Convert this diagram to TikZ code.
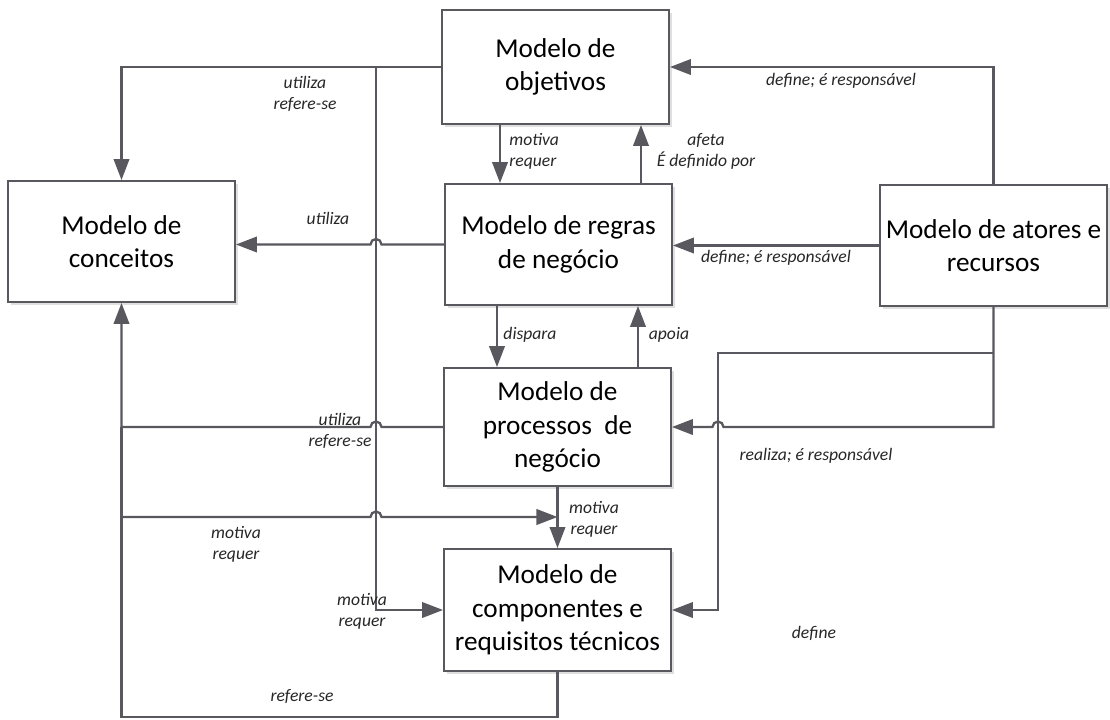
\documentclass[tikz,border=0pt]{standalone}
\usepackage{fontspec}
\setmainfont{Carlito}
\usepackage{tikz}
\usetikzlibrary{arrows.meta,shadows}
\definecolor{linegray}{RGB}{88,88,94}
\begin{document}
\begin{tikzpicture}[scale=0.2,
  box/.style={draw=linegray,line width=1.1pt,fill=white,minimum width=4.54cm,minimum height=2.42cm,align=center,font=\fontsize{15.5}{19}\selectfont,drop shadow={shadow xshift=1.5pt,shadow yshift=-1.5pt,opacity=0.25}},
  lbl/.style={font=\itshape\fontsize{10}{12}\selectfont,align=center,text=black!85},
  conn/.style={draw=linegray,line width=1.3pt,-{Triangle[length=0.42cm,width=0.31cm]}},
  plain/.style={draw=linegray,line width=1.3pt}]
\tikzstyle{every node}+=[inner sep=0pt]
\useasboundingbox (0,0) rectangle (111,-71.9);
\node [box,minimum height=2.28cm] (objetivos) at (55.55,-6.7) {Modelo de\\objetivos};
\node [box] (conceitos) at (12.15,-24.15) {Modelo de\\conceitos};
\node [box] (regras) at (55.85,-24.45) {Modelo de regras\\de negócio};
\node [box] (atores) at (99.35,-24.55) {Modelo de atores e\\recursos};
\node [box,minimum height=2.36cm] (processos) at (55.75,-42.7) {Modelo de\\processos\ \ de\\negócio};
\node [box,minimum height=2.44cm] (componentes) at (55.75,-61) {Modelo de\\componentes e\\requisitos técnicos};
\coordinate (vtop) at (37.6,-6.7);
\coordinate (vr) at (38.15,-6.7);
\coordinate (vl) at (37.05,-6.7);
\coordinate (xmot) at (50,0);
\coordinate (xafe) at (64.1,0);
\coordinate (xdis) at (49.7,0);
\coordinate (xapo) at (63.8,0);
\coordinate (mjoin) at (55.75,-51.7);
\coordinate (cbot) at (12.15,-71.7);
\coordinate (abranch) at (99.35,-35.3);
\coordinate (rjog) at (71.8,-35.3);
\coordinate (rjogr) at (72.35,-35.3);
\draw [conn] (objetivos.west) -- (conceitos.north |- objetivos.west) -- (conceitos.north);
\draw [conn] (vtop) -- (vtop |- componentes.west) -- (componentes.west);
\draw [conn] (xmot |- objetivos.south) -- (xmot |- regras.north);
\draw [conn] (xafe |- regras.north) -- (xafe |- objetivos.south);
\draw [conn] (regras.west) -- (vr |- regras.west) arc (0:180:0.55) -- (conceitos.east |- regras.west);
\draw [conn] (atores.west) -- (regras.east |- atores.west);
\draw [conn] (atores.north) -- (atores.north |- objetivos.east) -- (objetivos.east);
\draw [conn] (xdis |- regras.south) -- (xdis |- processos.north);
\draw [conn] (xapo |- processos.north) -- (xapo |- regras.south);
\draw [conn] (processos.west) -- (vr |- processos.west) arc (0:180:0.55) -- (conceitos.south |- processos.west) -- (conceitos.south);
\draw [plain] (componentes.south) -- (componentes.south |- cbot) -- (cbot) -- (conceitos.south |- processos.west);
\draw [conn] (conceitos.south |- mjoin) -- (vl |- mjoin) arc (180:0:0.55) -- (mjoin);
\draw [conn] (processos.south) -- (componentes.north);
\draw [conn] (atores.south) -- (atores.south |- processos.east) -- (rjogr |- processos.east) arc (0:180:0.55) -- (processos.east);
\draw [conn] (abranch) -- (rjog) -- (rjog |- componentes.east) -- (componentes.east);
\node [lbl] (l1) at (30.5,-9.4) {utiliza\\refere-se};
\node [lbl,align=left,anchor=west] (l2) at (50.9,-15.1) {motiva\\requer};
\node [lbl] (l3) at (70.6,-15.1) {afeta\\É definido por};
\node [lbl] (l4) at (32.8,-21.8) {utiliza};
\node [lbl] (l5) at (77.6,-25.8) {define; é responsável};
\node [lbl] (l6) at (84.1,-8.1) {define; é responsável};
\node [lbl] (l7) at (53,-33.5) {dispara};
\node [lbl] (l8) at (66.9,-33.5) {apoia};
\node [lbl] (l9) at (34,-43.05) {utiliza\\refere-se};
\node [lbl] (l10) at (23.6,-54.4) {motiva\\requer};
\node [lbl] (l11) at (36.2,-61.15) {motiva\\requer};
\node [lbl] (l12) at (30.2,-69.6) {refere-se};
\node [lbl] (l13) at (59.4,-51.95) {motiva\\requer};
\node [lbl] (l14) at (81.6,-45.6) {realiza; é responsável};
\node [lbl] (l15) at (81.4,-63.3) {define};
\end{tikzpicture}
\end{document}
